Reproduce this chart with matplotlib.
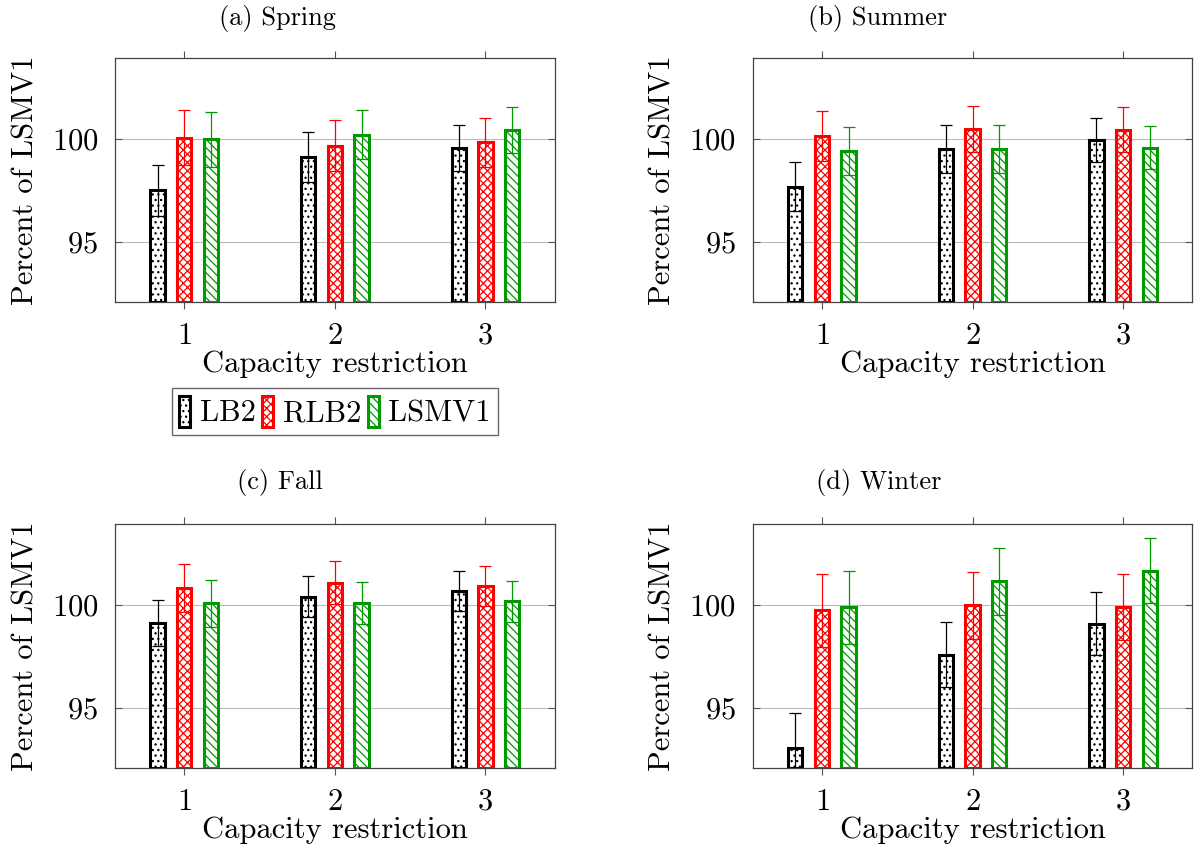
from matplotlib import pyplot as plt
from matplotlib.patches import Patch

plt.rcParams['font.family'] = 'serif'
plt.rcParams['font.serif'] = ['cmr10']
plt.rcParams['mathtext.fontset'] = 'cm'
plt.rcParams['axes.formatter.use_mathtext'] = True
plt.rcParams['hatch.linewidth'] = 0.9

capacity = [1, 2, 3]
methods = ["LB2", "RLB2", "LSMV1"]
seasons = ["(a) Spring", "(b) Summer", "(c) Fall", "(d) Winter"]

# mean percent of LSMV1 per capacity restriction
spring_lb2 = [97.50, 99.12, 99.54]
spring_rlb2 = [100.04, 99.64, 99.83]
spring_lsmv1 = [99.96, 100.18, 100.41]
summer_lb2 = [97.68, 99.49, 99.93]
summer_rlb2 = [100.12, 100.46, 100.42]
summer_lsmv1 = [99.40, 99.49, 99.56]
fall_lb2 = [99.12, 100.38, 100.64]
fall_rlb2 = [100.80, 101.05, 100.91]
fall_lsmv1 = [100.06, 100.06, 100.15]
winter_lb2 = [93.08, 97.58, 99.07]
winter_rlb2 = [99.73, 99.96, 99.88]
winter_lsmv1 = [99.88, 101.12, 101.63]

# error bar half widths
spring_lb2_err = [1.24, 1.20, 1.13]
spring_rlb2_err = [1.32, 1.23, 1.18]
spring_lsmv1_err = [1.31, 1.18, 1.13]
summer_lb2_err = [1.18, 1.14, 1.08]
summer_rlb2_err = [1.19, 1.13, 1.09]
summer_lsmv1_err = [1.16, 1.14, 1.05]
fall_lb2_err = [1.12, 1.00, 0.96]
fall_rlb2_err = [1.16, 1.04, 0.97]
fall_lsmv1_err = [1.13, 1.02, 0.97]
winter_lb2_err = [1.70, 1.57, 1.52]
winter_rlb2_err = [1.76, 1.62, 1.58]
winter_lsmv1_err = [1.76, 1.61, 1.56]

values = {
    seasons[0]: [spring_lb2, spring_rlb2, spring_lsmv1],
    seasons[1]: [summer_lb2, summer_rlb2, summer_lsmv1],
    seasons[2]: [fall_lb2, fall_rlb2, fall_lsmv1],
    seasons[3]: [winter_lb2, winter_rlb2, winter_lsmv1],
}
errors = {
    seasons[0]: [spring_lb2_err, spring_rlb2_err, spring_lsmv1_err],
    seasons[1]: [summer_lb2_err, summer_rlb2_err, summer_lsmv1_err],
    seasons[2]: [fall_lb2_err, fall_rlb2_err, fall_lsmv1_err],
    seasons[3]: [winter_lb2_err, winter_rlb2_err, winter_lsmv1_err],
}

colors = ['black', '#ff0000', '#009900']
hatches = ['...', 'xxxx', '\\\\\\\\']
offsets = [-0.177, 0.0, 0.177]
bar_width = 0.095
y_min, y_max = 92.13, 103.87
font_size = 22


def draw_panel(ax, season):
    for i in range(len(methods)):
        xs = [c + offsets[i] for c in capacity]
        heights = [v - y_min for v in values[season][i]]
        ax.bar(xs, heights, bar_width, bottom=y_min, facecolor='white', edgecolor=colors[i],
               hatch=hatches[i], linewidth=2.2, zorder=3, label=methods[i])
        ax.errorbar(xs, values[season][i], yerr=errors[season][i], fmt='none', ecolor=colors[i],
                    elinewidth=0.9, capsize=4.2, capthick=0.9, zorder=4)

    ax.set_xlim(0.54, 3.46)
    ax.set_ylim(y_min, y_max)
    ax.set_xticks(capacity)
    ax.set_yticks([95, 100])
    ax.yaxis.grid(True, color='#bbbbbb', linewidth=0.8, zorder=0)
    ax.set_axisbelow(True)
    ax.tick_params(axis='x', direction='out', top=True, length=5, width=0.8, color='#555555',
                   labelsize=font_size, pad=10)
    ax.tick_params(axis='y', direction='in', right=True, length=5, width=0.8, color='#555555',
                   labelsize=font_size, pad=12)
    for s in ax.spines.values():
        s.set_color('#444444')
        s.set_linewidth(0.9)
    ax.set_xlabel("Capacity restriction", fontsize=font_size, labelpad=0.5)
    ax.set_ylabel("Percent of LSMV1", fontsize=font_size, labelpad=9)


fig = plt.figure(figsize=(11.98, 8.52), dpi=100)
W, H = 1198.0, 852.0
panel_boxes = [(115, 58.3), (752.7, 58.3), (115, 524.3), (752.7, 524.3)]
title_pos = [(277, 18), (878, 18), (280, 483), (879, 483)]
axes = []
for k, season in enumerate(seasons):
    left, top = panel_boxes[k]
    ax = fig.add_axes([left / W, 1 - (top + 243.4) / H, 439.7 / W, 243.4 / H])
    draw_panel(ax, season)
    fig.text(title_pos[k][0] / W, 1 - title_pos[k][1] / H, season, ha='center', va='center',
             fontsize=19)
    axes.append(ax)

handles = [Patch(facecolor='white', edgecolor=colors[i], hatch=hatches[i], linewidth=2.2)
           for i in range(len(methods))]
fig.legend(handles, methods, loc='center', bbox_to_anchor=(335 / W, 1 - 411.5 / H), ncol=3,
           fontsize=font_size, frameon=True, fancybox=False, edgecolor='#444444',
           handlelength=0.35, handleheight=1.2, handletextpad=0.32, columnspacing=0.22,
           borderpad=0.25, borderaxespad=0)

plt.savefig("out.png", dpi=100)
